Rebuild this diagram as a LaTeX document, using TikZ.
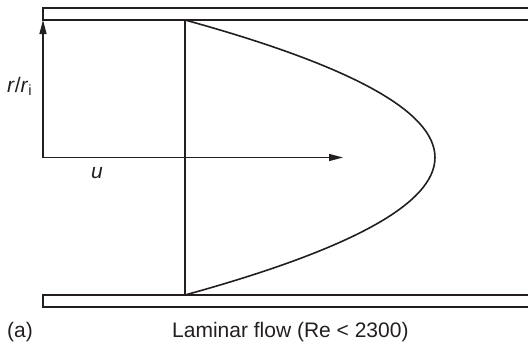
\documentclass[tikz,border=0pt]{standalone}
\usepackage{fontspec}
\setmainfont{Liberation Sans}
\usetikzlibrary{arrows.meta}
\definecolor{ink}{HTML}{231F20}
\tikzset{
  wall/.style={draw=ink, line width=1.4pt},
  prof/.style={draw=ink, line width=1.6pt},
  axisarrow/.style={draw=ink, line width=1.4pt, -{Triangle[length=14pt,width=7pt]}},
  lbl/.style={text=ink, inner sep=0pt, font=\fontsize{21}{25}\selectfont},
}
\begin{document}
\begin{tikzpicture}[x=1pt,y=-1pt]
\useasboundingbox (0,0) rectangle (528,343);
% walls
\draw[wall] (532,8) -- (43,8) -- (43,20) -- (532,20);
\draw[wall] (532,295) -- (43,295) -- (43,307) -- (532,307);
% axes
\coordinate (o) at (43,157.5);
\coordinate (ytip) at (43,20);
\coordinate (xtip) at (343,157.5);
\draw[axisarrow] (o) -- (ytip);
\draw[axisarrow] (o) -- (xtip);
% velocity profile (parabola as cubic Bezier)
\coordinate (ptop) at (185,20);
\coordinate (pbot) at (185,295);
\coordinate (pc1) at (518.3,111.7);
\coordinate (pc2) at (518.3,203.3);
\draw[prof] (ptop) -- (pbot);
\draw[prof] (ptop) .. controls (pc1) and (pc2) .. (pbot);
% labels
\node[lbl, anchor=base west] (rlab) at (7,92) {\textit{r}/\textit{r}\textsubscript{i}};
\node[lbl, anchor=base west] (ulab) at (91,178) {\textit{u}};
\node[lbl, anchor=base west] (alab) at (7,337) {(a)};
\node[lbl, anchor=base west] (cap) at (172,337) {Laminar flow (Re < 2300)};
\end{tikzpicture}
\end{document}
